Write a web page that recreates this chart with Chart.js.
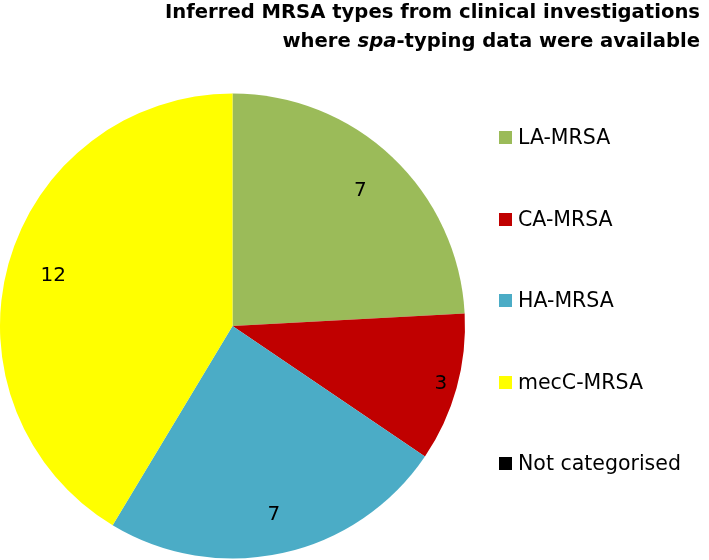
<!DOCTYPE html>
<html>
<head>
<meta charset="utf-8">
<script src="https://cdn.jsdelivr.net/npm/chart.js@4"></script>
<style>
  html, body { margin: 0; padding: 0; background: #fff; }
  #wrap { position: relative; width: 709px; height: 560px; }
  #title {
    position: absolute; right: 9px; top: -3px;
    font-family: "DejaVu Sans", sans-serif; font-weight: bold; font-size: 19.6px;
    line-height: 29px; text-align: right; color: #000;
  }
  #legend { position: absolute; left: 499px; top: 0; font-family: "DejaVu Sans", sans-serif; font-size: 20.5px; }
  .item { position: absolute; left: 0; white-space: nowrap; height: 24px; line-height: 24px; }
  .box { position: absolute; left: 0; top: 6px; width: 13px; height: 13px; }
  .lbl { position: absolute; left: 19px; top: 0; }
</style>
</head>
<body>
<div id="wrap">
  <canvas id="pie" width="709" height="560"></canvas>
  <div id="title">Inferred MRSA types from clinical investigations<br>where <i>spa</i>-typing data were available</div>
  <div id="legend"></div>
</div>
<script>
// data
const categories = ['LA-MRSA', 'CA-MRSA', 'HA-MRSA', 'mecC-MRSA', 'Not categorised'];
const counts = [7, 3, 7, 12, 0];
const colours = ['#9BBB59', '#C00000', '#4BACC6', '#FFFF00', '#000000'];
// how far out each value label sits (fraction of radius)
const labelDist = [0.8, 0.93, 0.83, 0.8, 0.8];

// legend rows (html, built from the arrays)
const legendEl = document.getElementById('legend');
categories.forEach(function(name, i) {
    const row = document.createElement('div');
    row.className = 'item';
    row.style.top = (125 + i * 81.5) + 'px';
    row.innerHTML = '<span class="box" style="background:' + colours[i] + '"></span><span class="lbl">' + name + '</span>';
    legendEl.appendChild(row);
});

// value labels inside the slices
const sliceLabels = {
    id: 'sliceLabels',
    afterDatasetsDraw(chart) {
        const ctx = chart.ctx;
        const meta = chart.getDatasetMeta(0);
        ctx.save();
        ctx.font = '20px "DejaVu Sans", sans-serif';
        ctx.fillStyle = '#000';
        ctx.textAlign = 'center';
        ctx.textBaseline = 'middle';
        meta.data.forEach(function(arc, i) {
            const v = chart.data.datasets[0].data[i];
            if (!v) return;
            const p = arc.getProps(['x', 'y', 'startAngle', 'endAngle', 'outerRadius'], true);
            const mid = (p.startAngle + p.endAngle) / 2;
            const r = p.outerRadius * labelDist[i];
            ctx.fillText(String(v), p.x + Math.cos(mid) * r, p.y + Math.sin(mid) * r);
        });
        ctx.restore();
    }
};

new Chart(document.getElementById('pie'), {
    type: 'pie',
    data: {
        labels: categories,
        datasets: [{
            data: counts,
            backgroundColor: colours,
            borderWidth: 0
        }]
    },
    options: {
        responsive: false,
        animation: false,
        layout: { padding: { left: 0, top: 93, right: 244, bottom: 1 } },
        plugins: {
            legend: { display: false },
            tooltip: { enabled: false }
        }
    },
    plugins: [sliceLabels]
});
</script>
</body>
</html>
